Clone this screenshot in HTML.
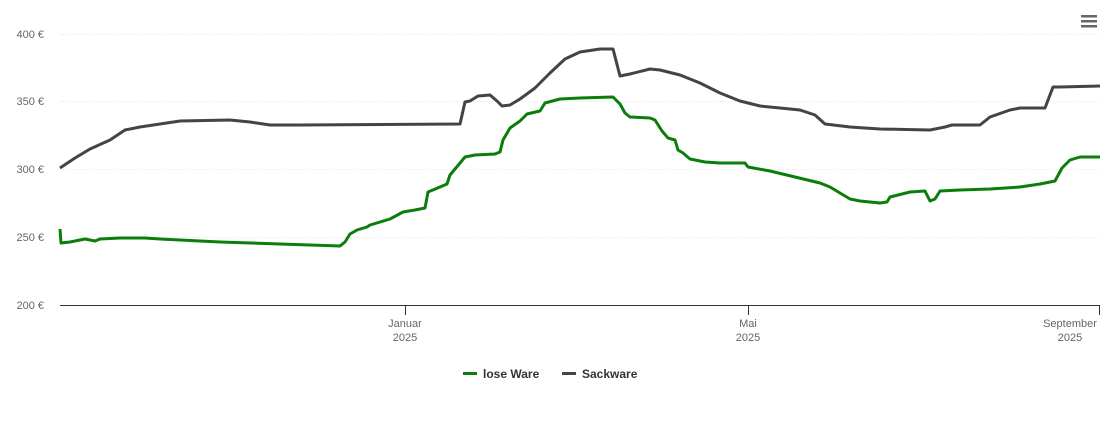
<!DOCTYPE html>
<html><head><meta charset="utf-8"><style>
body{margin:0;background:#fff;width:1110px;height:423px;overflow:hidden}
svg text{font-family:"Liberation Sans",sans-serif;}
</style></head><body>
<svg width="1110" height="423" xmlns="http://www.w3.org/2000/svg">
<g stroke="#e0e0e0" stroke-width="1" stroke-dasharray="1,2">
<line x1="60" y1="34.5" x2="1100" y2="34.5"/>
<line x1="60" y1="101.5" x2="1100" y2="101.5"/>
<line x1="60" y1="169.5" x2="1100" y2="169.5"/>
<line x1="60" y1="237.5" x2="1100" y2="237.5"/>
</g>
<line x1="60" y1="305.5" x2="1100" y2="305.5" stroke="#333" stroke-width="1"/>
<g stroke="#333"><line x1="405.5" y1="305" x2="405.5" y2="315"/><line x1="748.5" y1="305" x2="748.5" y2="315"/><line x1="1099.5" y1="305" x2="1099.5" y2="315"/></g>
<g fill="#666" font-size="11" text-anchor="end">
<text x="44" y="38">400 €</text><text x="44" y="105">350 €</text><text x="44" y="173">300 €</text><text x="44" y="241">250 €</text><text x="44" y="309">200 €</text>
</g>
<g fill="#666" font-size="11" text-anchor="middle">
<text x="405" y="327">Januar</text><text x="405" y="341">2025</text>
<text x="748" y="327">Mai</text><text x="748" y="341">2025</text>
<text x="1070" y="327">September</text><text x="1070" y="341">2025</text>
</g>
<g fill="#666"><rect x="1081" y="15" width="16" height="2.5"/><rect x="1081" y="20" width="16" height="2.5"/><rect x="1081" y="25" width="16" height="2.5"/></g>
<polyline fill="none" stroke="#434348" stroke-width="3" stroke-linejoin="round" points="60,168 75,158 90,149 110,140 125,130 140,127 180,121 230,120 250,122 270,125 300,125 460,124 465,102 470,101 478,96 490,95 497,101 502,106 510,105 520,99 535,88 550,73 565,59 580,52 600,49 613,49 620,76 630,74 650,69 660,70 680,75 700,83 720,93 740,101 760,106 780,108 800,110 815,115 825,124 850,127 880,129 930,130 945,127 952,125 980,125 990,117 1010,110 1020,108 1045,108 1053,87 1060,87 1100,86"/>
<polyline fill="none" stroke="#0a7d0a" stroke-width="3" stroke-linejoin="round" points="60,229 61,243 70,242 85,239 90,240 95,241 100,239 120,238 145,238 160,239 180,240 220,242 280,244 340,246 345,242 350,234 357,230 367,227 370,225 390,219 403,212 415,210 425,208 428,192 440,187 447,184 450,175 460,163 465,157 475,155 495,154 500,152 503,140 510,128 520,121 527,114 540,111 545,103 560,99 580,98 613,97 620,104 625,113 630,117 650,118 655,120 662,131 668,138 675,140 678,150 683,153 690,159 705,162 720,163 745,163 748,167 770,171 795,177 820,183 830,187 850,199 860,201 880,203 887,202 890,197 910,192 925,191 930,201 935,199 940,191 960,190 990,189 1020,187 1040,184 1055,181 1062,168 1070,160 1080,157 1100,157"/>
<line x1="463" y1="373.5" x2="477" y2="373.5" stroke="#0a7d0a" stroke-width="3"/>
<text x="483" y="378" font-size="12" font-weight="bold" fill="#333">lose Ware</text>
<line x1="562" y1="373.5" x2="576" y2="373.5" stroke="#434348" stroke-width="3"/>
<text x="582" y="378" font-size="12" font-weight="bold" fill="#333">Sackware</text>
</svg>
</body></html>
